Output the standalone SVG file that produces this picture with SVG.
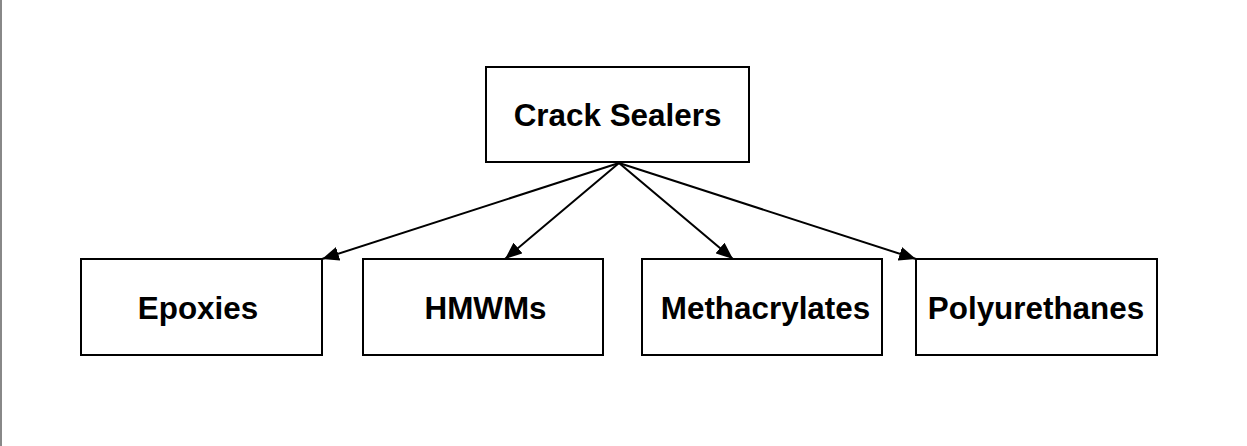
<svg xmlns="http://www.w3.org/2000/svg" width="1247" height="446" viewBox="0 0 1247 446">
<style>
.box{fill:#fff;stroke:#000;stroke-width:2}
.lbl{font-family:"Liberation Sans",Arial,sans-serif;font-weight:bold;font-size:31.4px;fill:#000;text-anchor:middle}
.edge{stroke:#000;stroke-width:2;fill:none;marker-end:url(#ah)}
</style>
<defs>
<marker id="ah" markerUnits="userSpaceOnUse" markerWidth="18" markerHeight="14" refX="17" refY="7" orient="auto">
<path d="M0,0 L17,7 L0,14 Z" fill="#000"/>
</marker>
</defs>
<rect x="0" y="0" width="1247" height="446" fill="#fff"/>
<rect x="0" y="0" width="2" height="446" fill="#888"/>
<g id="connectors">
<line class="edge" x1="619" y1="163" x2="322" y2="259"/>
<line class="edge" x1="619" y1="163" x2="505" y2="259"/>
<line class="edge" x1="619" y1="163" x2="733" y2="259"/>
<line class="edge" x1="619" y1="163" x2="916" y2="259"/>
</g>
<g id="crack-sealers">
<rect class="box" x="486" y="67" width="263" height="95"/>
<text class="lbl" x="617.5" y="126">Crack Sealers</text>
</g>
<g id="epoxies">
<rect class="box" x="81" y="259" width="241" height="96"/>
<text class="lbl" x="198" y="319">Epoxies</text>
</g>
<g id="hmwms">
<rect class="box" x="363" y="259" width="240" height="96"/>
<text class="lbl" x="485.5" y="319">HMWMs</text>
</g>
<g id="methacrylates">
<rect class="box" x="642" y="259" width="240" height="96"/>
<text class="lbl" x="765.5" y="319">Methacrylates</text>
</g>
<g id="polyurethanes">
<rect class="box" x="916" y="259" width="241" height="96"/>
<text class="lbl" x="1036" y="319">Polyurethanes</text>
</g>
</svg>
